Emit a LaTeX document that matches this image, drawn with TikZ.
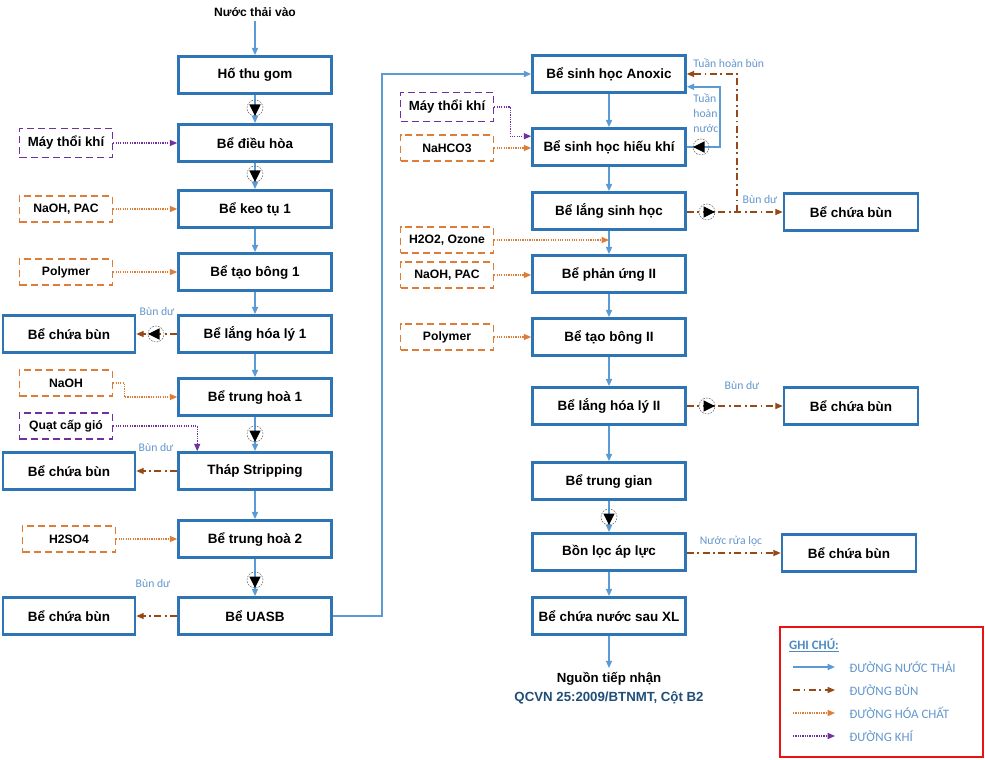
\documentclass[tikz,border=0pt]{standalone}
\usepackage{fontspec}
\setmainfont{Liberation Sans}
\newfontfamily\calib{Carlito}
\usepackage{tikz}
\usetikzlibrary{arrows.meta,positioning,shapes.geometric,calc}
\definecolor{tankblue}{RGB}{46,117,182}
\definecolor{water}{RGB}{91,155,213}
\definecolor{sludge}{RGB}{150,72,22}
\definecolor{chem}{RGB}{222,125,55}
\definecolor{air}{RGB}{112,48,160}
\definecolor{note}{RGB}{98,150,205}
\definecolor{navy}{RGB}{31,78,121}
\definecolor{frame}{RGB}{232,20,20}
\tikzset{
  % ---- tanks ------------------------------------------------------------
  tank/.style={
    draw=tankblue, line width=2.2pt, fill=white, text=black,
    font=\fontsize{11.5}{13}\selectfont\bfseries, align=center,
    minimum width=4.59cm, minimum height=1.11cm, inner sep=2pt},
  stank/.style={tank, minimum width=3.96cm},
  rtank/.style={tank, minimum width=4.02cm},
  % ---- dosing / blowers -------------------------------------------------
  feed/.style={
    draw=chem, line width=1.3pt, dash pattern=on 6pt off 3.5pt, fill=white,
    font=\fontsize{10.4}{12}\selectfont\bfseries, align=center,
    minimum width=2.79cm, minimum height=0.78cm, inner sep=2pt},
  airfeed/.style={feed, draw=air},
  % ---- lines ------------------------------------------------------------
  wline/.style={-{Triangle[length=2.2mm,width=1.8mm]}, draw=water, line width=1.4pt},
  sline/.style={-{Triangle[length=2.2mm,width=1.8mm]}, draw=sludge, line width=1pt,
                dash pattern=on 6pt off 3pt on 1.5pt off 3pt},
  cline/.style={-{Triangle[length=2.2mm,width=1.8mm]}, draw=chem, line width=1pt,
                dash pattern=on 1pt off 1pt},
  aline/.style={-{Triangle[length=2.2mm,width=1.8mm]}, draw=air, line width=1pt,
                dash pattern=on 1pt off 1pt},
  % ---- pumps ------------------------------------------------------------
  pumpc/.style={circle, draw=black!55, line width=0.5pt, dash pattern=on 1.5pt off 1pt,
                minimum size=0.48cm, inner sep=0pt},
  pumpt/.style={isosceles triangle, isosceles triangle apex angle=60, fill=black,
                inner sep=0pt, minimum height=0.34cm, minimum width=0.34cm,
                isosceles triangle stretches},
  % ---- labels -----------------------------------------------------------
  lbl/.style={font=\calib\fontsize{10}{13}\selectfont, text=note, inner sep=1pt, align=left},
  legtxt/.style={font=\calib\fontsize{11}{13}\selectfont, text=note, inner sep=1pt, anchor=west},
}

\begin{document}
\begin{tikzpicture}[x=0.03cm,y=-0.03cm]

\useasboundingbox (0,0) rectangle (985,759);

\newcommand{\pmp}[3]{\node[pumpc] (#1) at (#2) {};
  \node[pumpt, shape border rotate=#3] at (#1.center) {};}

% ---- left column ----------------------------------------------------------
\node[font=\fontsize{10.3}{12}\selectfont\bfseries] (inlet) at (255,12) {Nước thải vào};
\node[tank] (hothu)     at (255,75)  {Hố thu gom};
\node[tank] (dieuhoa)   at (255,143) {Bể điều hòa};
\node[tank] (keotu)     at (255,209) {Bể keo tụ 1};
\node[tank] (taobong)   at (255,272) {Bể tạo bông 1};
\node[tank] (langhl)    at (255,334) {Bể lắng hóa lý 1};
\node[tank] (trunghoa)  at (255,397) {Bể trung hoà 1};
\node[tank] (strip)     at (255,471) {Tháp Stripping};
\node[tank] (trunghoab) at (255,539) {Bể trung hoà 2};
\node[tank] (uasb)      at (255,616) {Bể UASB};

\node[airfeed, minimum height=0.87cm, font=\fontsize{11.3}{13}\selectfont\bfseries]
            (blowa)   at (66,143) {Máy thổi khí};
\node[feed] (naohpac) at (66,209) {NaOH, PAC};
\node[feed] (polya)   at (66,272) {Polymer};
\node[feed] (naoh)    at (66,383) {NaOH};
\node[airfeed] (fan)  at (66,426) {Quạt cấp gió};
\node[feed] (hso)     at (69,539) {H2SO4};

\node[stank] (buna) at (69,334) {Bể chứa bùn};
\node[stank] (bunb) at (69,471) {Bể chứa bùn};
\node[stank] (bunc) at (69,616) {Bể chứa bùn};

% ---- right column ---------------------------------------------------------
\node[tank] (anoxic)    at (609,74)  {Bể sinh học Anoxic};
\node[tank] (hieukhi)   at (609,147) {Bể sinh học hiếu khí};
\node[tank] (langsh)    at (609,211) {Bể lắng sinh học};
\node[tank] (phanung)   at (609,274) {Bể phản ứng II};
\node[tank] (taobongb)  at (609,337) {Bể tạo bông II};
\node[tank] (langhlb)   at (609,406) {Bể lắng hóa lý II};
\node[tank] (trunggian) at (609,481) {Bể trung gian};
\node[tank] (loc)       at (609,552) {Bồn lọc áp lực};
\node[tank] (sauxl)     at (609,616) {Bể chứa nước sau XL};
\node[font=\fontsize{11.3}{16}\selectfont\bfseries, align=center] (recv) at (609,688)
  {Nguồn tiếp nhận\\ \textcolor{navy}{QCVN 25:2009/BTNMT, Cột B2}};

\node[airfeed, minimum height=0.87cm, font=\fontsize{11.3}{13}\selectfont\bfseries]
            (blowb)    at (447,107) {Máy thổi khí};
\node[feed] (nahco)    at (447,148) {NaHCO3};
\node[feed] (hoz)      at (447,240) {H2O2, Ozone};
\node[feed] (naohpacb) at (447,275) {NaOH, PAC};
\node[feed] (polyb)    at (447,337) {Polymer};

\node[rtank] (bund) at (851,212) {Bể chứa bùn};
\node[rtank] (bune) at (851,406) {Bể chứa bùn};
\node[rtank] (bunf) at (849,553) {Bể chứa bùn};

% ---- waste water ----------------------------------------------------------
\draw[wline] (inlet) -- (hothu);
\draw[wline] (hothu) -- (dieuhoa);
\draw[wline] (dieuhoa) -- (keotu);
\draw[wline] (keotu) -- (taobong);
\draw[wline] (taobong) -- (langhl);
\draw[wline] (langhl) -- (trunghoa);
\draw[wline] (trunghoa) -- (strip);
\draw[wline] (strip) -- (trunghoab);
\draw[wline] (trunghoab) -- (uasb);
\draw[wline] (uasb.east) -- ++(49,0) |- (anoxic.west);
\draw[wline] (anoxic) -- (hieukhi);
\draw[wline] (hieukhi) -- (langsh);
\draw[wline] (langsh) -- (phanung);
\draw[wline] (phanung) -- (taobongb);
\draw[wline] (taobongb) -- (langhlb);
\draw[wline] (langhlb) -- (trunggian);
\draw[wline] (trunggian) -- (loc);
\draw[wline] (loc) -- (sauxl);
\draw[wline] (sauxl) -- (recv);
\draw[wline] (hieukhi.east) -- (720,147) |- ($(anoxic.south east)+(0,-7)$);

% ---- sludge ---------------------------------------------------------------
\draw[sline] (langhl) -- (buna);
\draw[sline] (strip) -- (bunb);
\draw[sline] (uasb) -- (bunc);
\draw[sline] (langsh.east |- bund) -- (bund);
\coordinate (rs) at (737,212);
\draw[sline] (rs) |- (anoxic.east);
\draw[sline] (langhlb) -- (bune);
\draw[sline] (loc.east |- bunf) -- (bunf);

% ---- chemicals and air ----------------------------------------------------
\draw[aline] (blowa) -- (dieuhoa);
\draw[cline] (naohpac) -- (keotu);
\draw[cline] (polya) -- (taobong);
\draw[cline] (naoh.east) -- ++(11,0) |- (trunghoa.west);
\draw[aline] (fan.east) -| ($(strip.north west)+(20,0)$);
\draw[cline] (hso) -- (trunghoab);
\draw[aline] (blowb.east) -- ++(16,0) |- ($(hieukhi.north west)+(0,9)$);
\draw[cline] (nahco) -- (nahco -| hieukhi.west);
\draw[cline] (hoz) -- (hoz -| langsh);
\draw[cline] (naohpacb) -- (naohpacb -| phanung.west);
\draw[cline] (polyb) -- (taobongb);

% ---- pumps ----------------------------------------------------------------
\pmp{pa}{255,108}{-90}
\pmp{pb}{255,174}{-90}
\pmp{pc}{156,334}{180}
\pmp{pd}{255,434}{-90}
\pmp{pe}{255,580}{-90}
\pmp{pf}{701,147}{180}
\pmp{pg}{707,212}{0}
\pmp{ph}{707,406}{0}
\pmp{pi}{609,517}{-90}

% ---- line labels ----------------------------------------------------------
\node[lbl] (la) at (157,311) {Bùn dư};
\node[lbl] (lb) at (156,447) {Bùn dư};
\node[lbl] (lc) at (153,583) {Bùn dư};
\node[lbl, anchor=west] (ld) at (692,63) {Tuần hoàn bùn};
\node[lbl, anchor=west] (le) at (692,113) {Tuần\\hoàn\\nước};
\node[lbl] (lf) at (760,199) {Bùn dư};
\node[lbl] (lg) at (742,385) {Bùn dư};
\node[lbl] (lh) at (731,541) {Nước rửa lọc};

% ---- legend ---------------------------------------------------------------
\draw[frame, line width=2pt] (780,627) rectangle (983,757);
\node[font=\calib\fontsize{11}{13}\selectfont\bfseries, text=tankblue!85, anchor=west]
  (ghichu) at (785,645) {\underline{GHI CHÚ:}};
\foreach \st/\tx [count=\i] in {wline/ĐƯỜNG NƯỚC THẢI, sline/ĐƯỜNG BÙN,
                                cline/ĐƯỜNG HÓA CHẤT, aline/ĐƯỜNG KHÍ} {
  \coordinate (ka\i) at (793,644+23*\i);
  \coordinate (kb\i) at (835,644+23*\i);
  \draw[\st] (ka\i) -- (kb\i);
  \node[legtxt] (kt\i) at (848,644+23*\i) {\tx};
}

\end{tikzpicture}
\end{document}
